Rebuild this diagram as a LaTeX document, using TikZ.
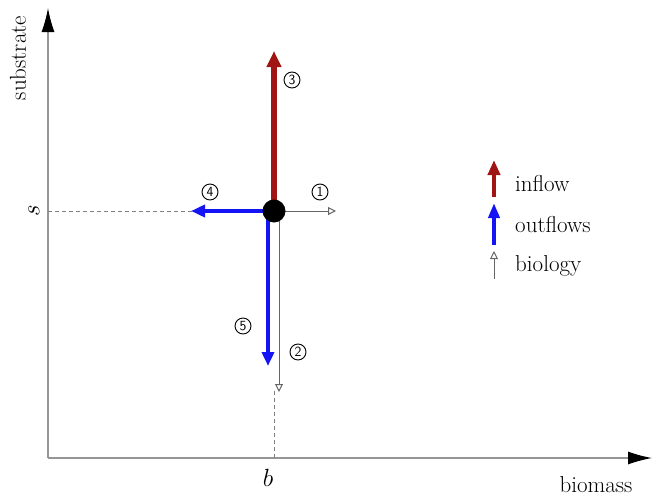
\documentclass[tikz,border=0pt]{standalone}
\usetikzlibrary{arrows.meta}
\definecolor{inred}{RGB}{160,20,20}
\definecolor{outblue}{RGB}{20,20,245}
\definecolor{axgray}{RGB}{150,150,150}
\tikzset{
  lbl/.style={inner sep=0pt, font=\fontsize{23}{27}\selectfont},
  num/.style={circle, draw=black, line width=0.9pt, minimum size=16pt, inner sep=0pt, font=\sffamily\fontsize{14}{16}\selectfont},
  axis/.style={axgray, line width=1.2pt, -{Latex[length=24pt,width=13pt,color=black]}},
  guide/.style={gray, dashed, line width=0.8pt, dash pattern=on 4pt off 3pt},
  inarrow/.style={inred, line width=5.5pt, -{Triangle[length=16pt,width=14pt]}},
  outarrow/.style={outblue, line width=4pt, -{Triangle[length=14pt,width=12pt]}},
  bioarrow/.style={black!60, line width=1pt, -{Triangle[open, length=8pt, width=8pt, fill=white]}},
}
\begin{document}
\begin{tikzpicture}[x=1pt,y=-1pt]
\useasboundingbox (0,0) rectangle (659,498);
% axes
\coordinate (O) at (48,458);
\coordinate (ytop) at (48,8);
\coordinate (xend) at (652,458);
\draw[axis] (O) -- (ytop);
\draw[axis] (O) -- (xend);
\node[lbl, rotate=90] (ylab) at (18,58) {substrate};
\node[lbl] (xlab) at (596,485) {biomass};
% guides
\coordinate (sa) at (48,211);
\coordinate (sb) at (192,211);
\draw[guide] (sa) -- (sb);
\coordinate (ba) at (274,458);
\coordinate (bb) at (274,390);
\draw[guide] (ba) -- (bb);
\node[lbl, rotate=90] (slab) at (34,211) {$s$};
\node[lbl] (blab) at (268,478) {$b$};
% arrows
\coordinate (c) at (274,211);
\coordinate (e1) at (336,211);
\coordinate (e2) at (279,392);
\coordinate (s2) at (279,211);
\coordinate (e3) at (274,51);
\coordinate (e4) at (191,211);
\coordinate (e5) at (268,366);
\coordinate (s5) at (268,211);
\draw[bioarrow] (c) -- (e1);
\draw[bioarrow] (s2) -- (e2);
\draw[outarrow] (c) -- (e4);
\draw[outarrow] (s5) -- (e5);
\draw[inarrow] (c) -- (e3);
\node[circle, fill=black, minimum size=23pt, inner sep=0pt] (dot) at (c) {};
% labels
\node[num] (n1) at (320,192) {1};
\node[num] (n2) at (298,352) {2};
\node[num] (n3) at (292,80) {3};
\node[num] (n4) at (210,192) {4};
\node[num] (n5) at (243,326) {5};
% legend
\coordinate (la1) at (494,197);
\coordinate (la2) at (494,160);
\coordinate (lb1) at (494,245);
\coordinate (lb2) at (494,203);
\coordinate (lc1) at (494,279);
\coordinate (lc2) at (494,251);
\draw[inarrow, line width=4.5pt, -{Triangle[length=15pt,width=12pt]}] (la1) -- (la2);
\draw[outarrow, -{Triangle[length=15pt,width=11pt]}] (lb1) -- (lb2);
\draw[bioarrow] (lc1) -- (lc2);
\node[lbl, anchor=west] (t1) at (515,184) {inflow};
\node[lbl, anchor=west] (t2) at (515,225) {outflows};
\node[lbl, anchor=west] (t3) at (515,266) {biology};
\end{tikzpicture}
\end{document}
